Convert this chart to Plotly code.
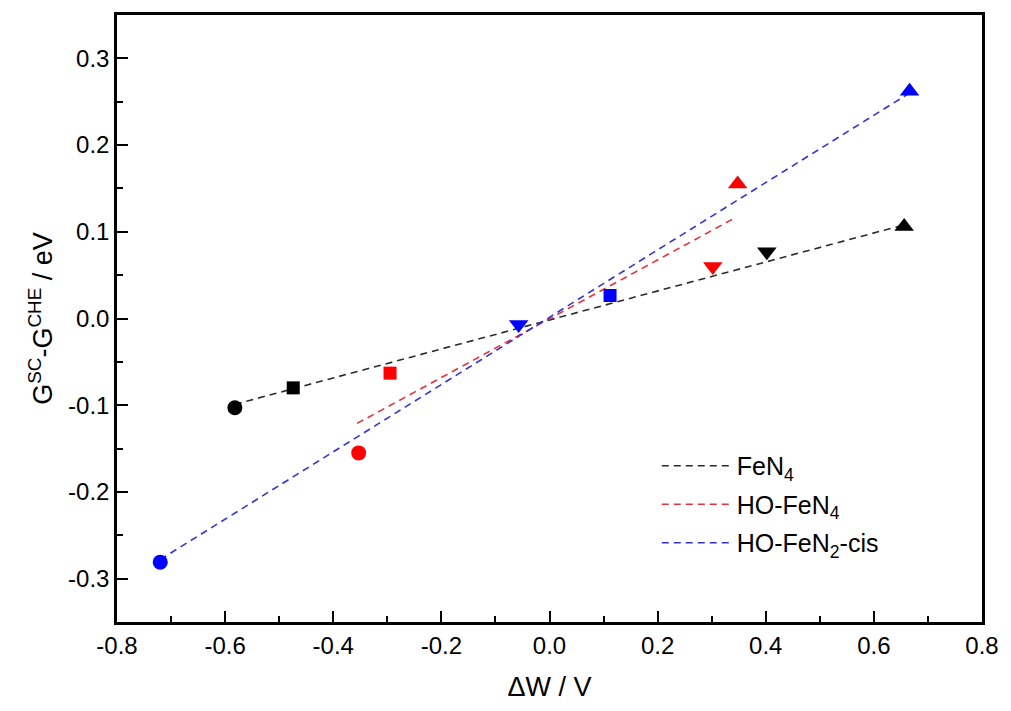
import plotly.graph_objects as go

# ---- data ----
fen4_x = [-0.582, -0.474, 0.402, 0.656]
fen4_y = [-0.103, -0.080, 0.077, 0.106]
fen4_sym = ["circle", "square", "triangle-down", "triangle-up"]

hofen4_x = [-0.353, -0.295, 0.302, 0.348]
hofen4_y = [-0.155, -0.063, 0.060, 0.155]
hofen4_sym = ["circle", "square", "triangle-down", "triangle-up"]

hofen2_x = [-0.720, -0.057, 0.112, 0.666]
hofen2_y = [-0.281, -0.007, 0.0265, 0.262]
hofen2_sym = ["circle", "triangle-down", "square", "triangle-up"]

# linear-fit lines (endpoints)
fen4_fit_x = [-0.582, 0.656]
fen4_fit_y = [-0.099, 0.108]
hofen4_fit_x = [-0.356, 0.340]
hofen4_fit_y = [-0.121, 0.115]
hofen2_fit_x = [-0.720, 0.666]
hofen2_fit_y = [-0.278, 0.260]

x_tickvals = [-0.8, -0.6, -0.4, -0.2, 0.0, 0.2, 0.4, 0.6, 0.8]
x_ticktext = ["-0.8", "-0.6", "-0.4", "-0.2", "0.0", "0.2", "0.4", "0.6", "0.8"]
y_tickvals = [-0.3, -0.2, -0.1, 0.0, 0.1, 0.2, 0.3]
y_ticktext = ["-0.3", "-0.2", "-0.1", "0.0", "0.1", "0.2", "0.3"]

series = [
    ("FeN<sub>4</sub>", fen4_fit_x, fen4_fit_y, fen4_x, fen4_y, fen4_sym, "#2b2b2b", "#000000"),
    ("HO-FeN<sub>4</sub>", hofen4_fit_x, hofen4_fit_y, hofen4_x, hofen4_y, hofen4_sym, "#e8323a", "#ff0000"),
    ("HO-FeN<sub>2</sub>-cis", hofen2_fit_x, hofen2_fit_y, hofen2_x, hofen2_y, hofen2_sym, "#3333d6", "#0000ff"),
]

fig = go.Figure()
for i, (name, fx, fy, px, py, sym, lc, mc) in enumerate(series):
    fig.add_trace(go.Scatter(
        x=fx, y=fy, mode="lines", name=name, legendgroup="g%d" % i,
        line=dict(color=lc, width=1.6, dash="7px,5px"),
        showlegend=True,
    ))
for name, fx, fy, px, py, sym, lc, mc in series:
    sizes = [15 if s == "circle" else (13 if s == "square" else 17) for s in sym]
    fig.add_trace(go.Scatter(
        x=px, y=py, mode="markers", showlegend=False,
        marker=dict(color=mc, symbol=sym, size=sizes, opacity=1, line=dict(width=0)),
    ))

axis_common = dict(
    showline=True, linecolor="black", linewidth=2.5, mirror=True,
    ticks="inside", ticklen=11, tickwidth=2, tickcolor="black",
    showgrid=False, zeroline=False,
)

fig.update_xaxes(
    range=[-0.8, 0.8], tickvals=x_tickvals, ticktext=x_ticktext,
    minor=dict(ticks="inside", ticklen=6, tickwidth=2, tickcolor="black", dtick=0.1, tick0=-0.8, showgrid=False),
    tickfont=dict(family="'Liberation Sans Narrow', 'Liberation Sans', Arial", size=24, color="black"),
    title=dict(text="ΔW / V", font=dict(family="'Liberation Sans Narrow', 'Liberation Sans', Arial", size=27, color="black"), standoff=20),
    **axis_common,
)
fig.update_yaxes(
    range=[-0.35, 0.35], tickvals=y_tickvals, ticktext=y_ticktext,
    minor=dict(ticks="inside", ticklen=6, tickwidth=2, tickcolor="black", dtick=0.05, tick0=-0.35, showgrid=False),
    tickfont=dict(family="'Liberation Sans', Arial", size=24, color="black"),
    title=dict(text="G<sup>SC</sup>-G<sup>CHE</sup> / eV", font=dict(family="'Liberation Sans', Arial", size=27, color="black"), standoff=8),
    **axis_common,
)

fig.update_layout(
    width=1011, height=711,
    margin=dict(l=117, r=24, t=15, b=89),
    paper_bgcolor="white", plot_bgcolor="white",
    legend=dict(
        x=0.624, y=0.295, xanchor="left", yanchor="top",
        bgcolor="rgba(0,0,0,0)", borderwidth=0,
        font=dict(family="'Liberation Sans', Arial", size=25, color="black"),
        itemwidth=70, tracegroupgap=3,
    ),
    showlegend=True,
)

fig.write_html("out.html")
